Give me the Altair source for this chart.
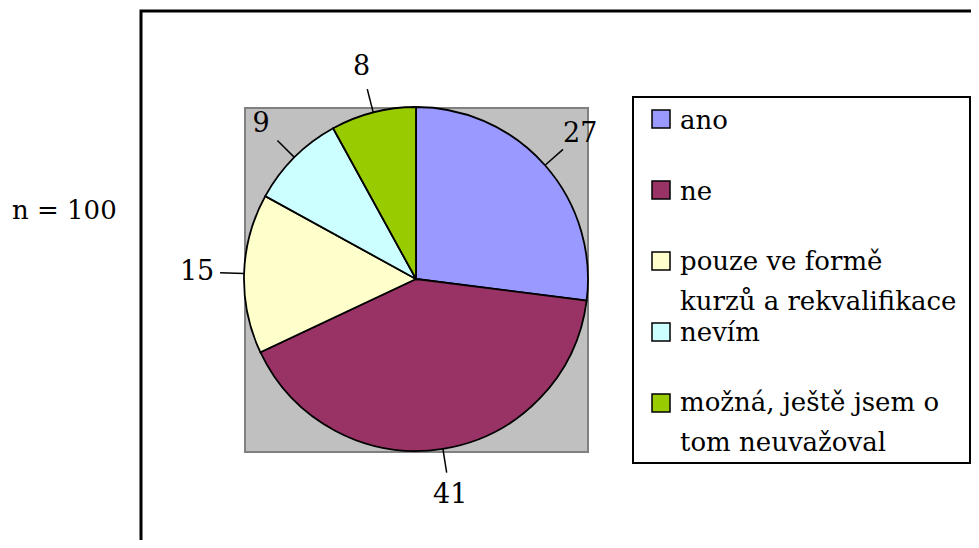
import altair as alt
import pandas as pd

# ---- data ----
categories = ["ano", "ne", "pouze ve formě kurzů a rekvalifikace", "nevím",
              "možná, ještě jsem o tom neuvažoval"]
legend_lines = [["ano"], ["ne"], ["pouze ve formě", "kurzů a rekvalifikace"],
                ["nevím"], ["možná, ještě jsem o", "tom neuvažoval"]]
values = [27, 41, 15, 9, 8]
colors = ["#9999FF", "#993366", "#FFFFCC", "#CCFFFF", "#99CC00"]
note = "n = 100"

# ---- layout (page pixels, minus 8px page margin) ----
OFF = 8
CX, CY, R = 416 - OFF, 279 - OFF, 172
FONT = "DejaVu Serif"
FS = 26

pie_df = pd.DataFrame({"cat": categories, "value": values, "idx": list(range(len(values)))})
leg_rows = []
for i, (c, lines) in enumerate(zip(categories, legend_lines)):
    for j, t in enumerate(lines):
        leg_rows.append({"cat": c, "idx": i, "line": j, "txt": t})
leg_df = pd.DataFrame(leg_rows)
one = pd.DataFrame({"a": [0]})

color_scale = alt.Scale(domain=categories, range=colors)

frame = alt.Chart(one).mark_rect(fill="white", stroke="black", strokeWidth=3).encode(
    x=alt.value(141 - OFF), x2=alt.value(1400), y=alt.value(11 - OFF), y2=alt.value(900))

legend_box = alt.Chart(one).mark_rect(fill="white", stroke="black", strokeWidth=2).encode(
    x=alt.value(633 - OFF), x2=alt.value(970 - OFF), y=alt.value(97 - OFF), y2=alt.value(463 - OFF))

plot_area = alt.Chart(one).mark_rect(fill="#C0C0C0", stroke="#808080", strokeWidth=2).encode(
    x=alt.value(245 - OFF), x2=alt.value(588 - OFF), y=alt.value(108 - OFF), y2=alt.value(452 - OFF))

pie = alt.Chart(pie_df).mark_arc(stroke="black", strokeWidth=1.8, radius=R).encode(
    theta=alt.Theta("value:Q", stack=True),
    color=alt.Color("cat:N", scale=color_scale, legend=None),
    order=alt.Order("idx:Q"),
    x=alt.value(CX), y=alt.value(CY))

base = alt.Chart(pie_df).transform_joinaggregate(
    total="sum(value)"
).transform_window(
    cum="sum(value)", sort=[alt.SortField("idx")], frame=[None, 0]
).transform_calculate(
    mid="(datum.cum - datum.value/2) / datum.total * 2 * PI",
    sx=f"{CX} + {R} * sin(datum.mid)",
    sy=f"{CY} - {R} * cos(datum.mid)",
    ex=f"{CX} + {R + 24} * sin(datum.mid)",
    ey=f"{CY} - {R + 24} * cos(datum.mid)",
    lx=f"{CX} + {R + 47} * sin(datum.mid)",
    ly=f"{CY} - {R + 47} * cos(datum.mid)",
)

leaders = base.mark_rule(color="black", strokeWidth=1.5).encode(
    x=alt.X("sx:Q", scale=None), y=alt.Y("sy:Q", scale=None),
    x2="ex:Q", y2="ey:Q")

labels = base.mark_text(font=FONT, fontSize=27, baseline="middle", align="center",
                        color="black").encode(
    x=alt.X("lx:Q", scale=None), y=alt.Y("ly:Q", scale=None), text="value:Q")

swatches = alt.Chart(pie_df).transform_calculate(
    sy=f"{119 - OFF} + datum.idx * 71"
).mark_square(size=324, filled=True, stroke="black", strokeWidth=1.5, opacity=1).encode(
    x=alt.value(661 - OFF), y=alt.Y("sy:Q", scale=None),
    color=alt.Color("cat:N", scale=color_scale, legend=None))

leg_text = alt.Chart(leg_df).transform_calculate(
    ty=f"{121 - OFF} + datum.idx * 70.5 + datum.line * 40"
).mark_text(font=FONT, fontSize=FS, baseline="middle", align="left", color="black").encode(
    x=alt.value(680 - OFF), y=alt.Y("ty:Q", scale=None), text="txt:N")

note_text = alt.Chart(one).mark_text(text=note, font=FONT, fontSize=26, baseline="middle",
                                     align="left", color="black").encode(
    x=alt.value(12 - OFF), y=alt.value(211 - OFF))

chart = alt.layer(frame, legend_box, plot_area, pie, leaders, labels, swatches, leg_text,
                  note_text).properties(
    width=963, height=532, padding=0,
    autosize=alt.AutoSizeParams(type="none"),
    background="white",
).configure_view(stroke=None)

chart.save("out.html", embed_options={"renderer": "svg", "actions": False})
